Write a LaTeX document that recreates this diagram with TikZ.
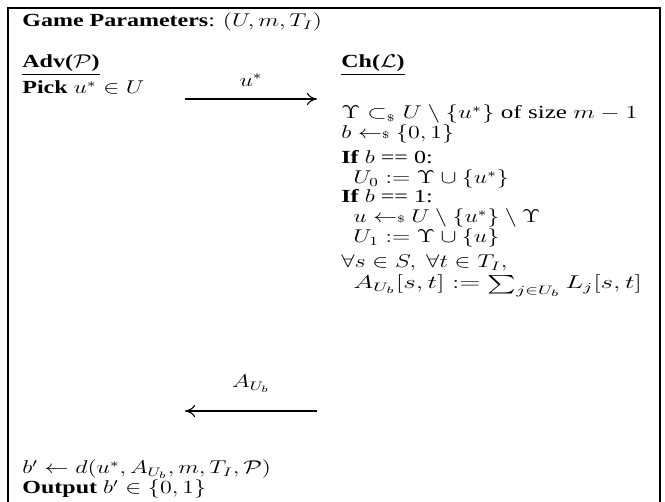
\documentclass[tikz,border=0pt]{standalone}
\usepackage{fontspec}
\setmainfont{Liberation Serif}
\usepackage{amsmath,amssymb,graphicx}
\usetikzlibrary{arrows.meta}
\newcommand{\smpl}{\mathrel{\leftarrow\mkern-5mu\raisebox{0.1ex}{$\scriptscriptstyle\$$}}}
\newcommand{\subsmpl}{\subset_{\scriptscriptstyle\$}}
\newcommand{\sq}[2][1]{\scalebox{#1}[0.77]{#2}}
\tikzset{
  x=0.5pt, y=-0.5pt,
  txt/.style={anchor=base west, inner sep=0pt, font=\fontsize{12}{14}\selectfont},
  lbl/.style={anchor=base, inner sep=0pt, font=\fontsize{12}{14}\selectfont},
  msg/.style={line width=0.55pt, -{To[length=5pt,width=6pt]}},
  frame/.style={line width=0.8pt}
}
\begin{document}
\begin{tikzpicture}
\useasboundingbox (0,0) rectangle (665,502);
\draw[frame] (8,520) -- (8,8) -- (660,8) -- (660,520);
\node[txt] (hdr) at (22,27) {\sq{\textbf{Game Parameters}: $(U, m, T_I)$}};
\node[txt] (adv) at (22,68) {\sq{\underline{\textbf{Adv($\mathcal{P}$)}}}};
\node[txt] (ch) at (341,68) {\sq{\underline{\textbf{Ch($\mathcal{L}$)}}}};
\node[txt] (pick) at (22,94) {\sq{\textbf{Pick} $u^* \in U$}};
\coordinate (m1a) at (185,99);
\coordinate (m1b) at (317,99);
\draw[msg] (m1a) -- node[lbl, above=6pt] (m1l) {\sq{$u^*$}} (m1b);
\node[txt] (c1) at (341,119) {\sq[1.045]{$\Upsilon \subsmpl U \setminus \{u^*\}$ of size $m-1$}};
\node[txt] (c2) at (341,139) {\sq{$b \smpl \{0,1\}$}};
\node[txt] (c3) at (341,164) {\sq{\textbf{If} $b$ == 0:}};
\node[txt] (c4) at (353,184) {\sq{$U_0 := \Upsilon \cup \{u^*\}$}};
\node[txt] (c5) at (341,203) {\sq{\textbf{If} $b$ == 1:}};
\node[txt] (c6) at (353,223) {\sq{$u \smpl U \setminus \{u^*\} \setminus \Upsilon$}};
\node[txt] (c7) at (353,243) {\sq{$U_1 := \Upsilon \cup \{u\}$}};
\node[txt] (c8) at (341,268) {\sq{$\forall s \in S,\ \forall t \in T_I,$}};
\node[txt] (c9) at (353,289) {\sq[1.13]{$A_{U_b}[s,t] := \sum_{j \in U_b} L_j[s,t]$}};
\coordinate (m2a) at (317,411);
\coordinate (m2b) at (185,411);
\draw[msg] (m2a) -- node[lbl, above=9pt] (m2l) {\sq{$A_{U_b}$}} (m2b);
\node[txt] (a2) at (22,474) {\sq{$b' \leftarrow d(u^*, A_{U_b}, m, T_I, \mathcal{P})$}};
\node[txt] (a3) at (22,494) {\sq{\textbf{Output} $b' \in \{0,1\}$}};
\end{tikzpicture}
\end{document}
